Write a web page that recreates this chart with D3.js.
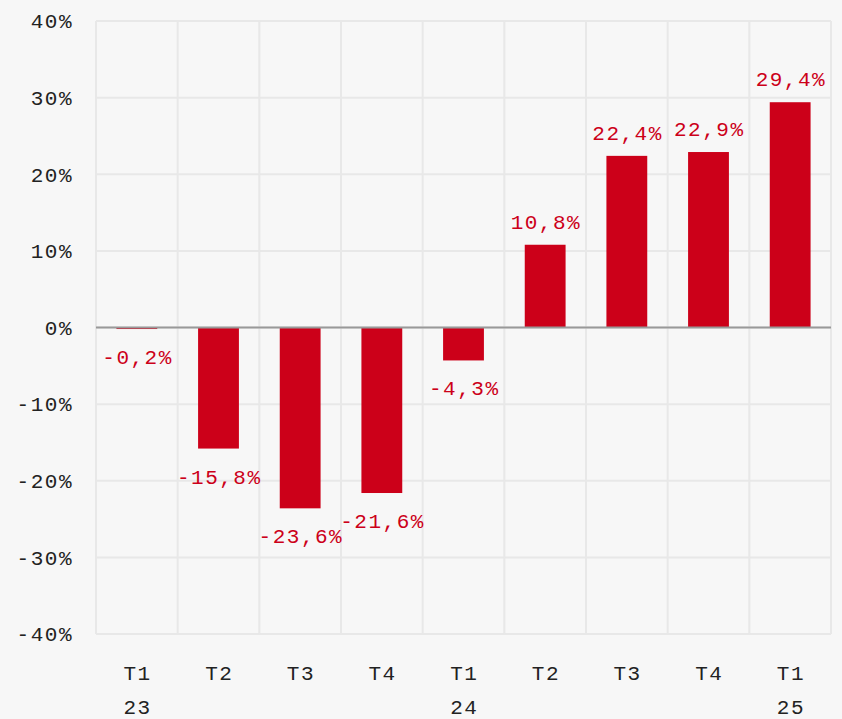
<!DOCTYPE html>
<html>
<head>
<meta charset="utf-8">
<script src="https://cdn.jsdelivr.net/npm/d3@7"></script>
<style>
  html, body { margin: 0; padding: 0; background: #f7f7f7; }
  svg { display: block; }
</style>
</head>
<body>
<svg id="chart"></svg>
<script>
const quarters = ['T1', 'T2', 'T3', 'T4', 'T1', 'T2', 'T3', 'T4', 'T1']
const years = ['23', '', '', '', '24', '', '', '', '25']
const values = [-0.2, -15.8, -23.6, -21.6, -4.3, 10.8, 22.4, 22.9, 29.4]
const yTicks = [-40, -30, -20, -10, 0, 10, 20, 30, 40]

const width = 842, height = 719
const margin = {top: 21, right: 11, bottom: 85, left: 96}
const innerW = width - margin.left - margin.right
const innerH = height - margin.top - margin.bottom
const font = "'Liberation Mono', monospace"
const fsize = 21
const spacing = 1.5
const red = '#cc0019'

const data = values.map((v, i) => ({i: i, q: quarters[i], y: years[i], v: v}))

const svg = d3.select('#chart').attr('width', width).attr('height', height)
svg.append('rect').attr('width', width).attr('height', height).attr('fill', '#f7f7f7')

const chart = svg.append('g').attr('transform', `translate(${margin.left},${margin.top})`)

const x = d3.scaleBand().domain(data.map(d => d.i)).range([0, innerW]).paddingInner(0.5).paddingOuter(0.25)
const y = d3.scaleLinear().domain([-40, 40]).range([innerH, 0])
const step = x.step()

// grid
chart.append('g').selectAll('line').data(yTicks).enter()
  .append('line')
  .attr('x1', 0).attr('x2', innerW)
  .attr('y1', d => y(d)).attr('y2', d => y(d))
  .attr('stroke', '#e8e8e8').attr('stroke-width', 2)

chart.append('g').selectAll('line').data(d3.range(data.length + 1)).enter()
  .append('line')
  .attr('x1', d => d * step).attr('x2', d => d * step)
  .attr('y1', 0).attr('y2', innerH)
  .attr('stroke', '#e8e8e8').attr('stroke-width', 2)

// y axis labels
chart.append('g').selectAll('text').data(yTicks).enter()
  .append('text')
  .attr('x', -23).attr('y', d => y(d))
  .attr('dy', '0.35em')
  .attr('text-anchor', 'end')
  .attr('font-family', font).attr('font-size', fsize)
  .attr('letter-spacing', spacing)
  .attr('fill', '#222')
  .text(d => d + '%')

// bars
chart.append('g').selectAll('rect').data(data).enter()
  .append('rect')
  .attr('x', d => x(d.i))
  .attr('y', d => y(Math.max(0, d.v)))
  .attr('width', x.bandwidth())
  .attr('height', d => Math.abs(y(d.v) - y(0)))
  .attr('fill', red)

// zero line
chart.append('line')
  .attr('x1', 0).attr('x2', innerW)
  .attr('y1', y(0)).attr('y2', y(0))
  .attr('stroke', '#999').attr('stroke-width', 2)

// value labels
chart.append('g').selectAll('text').data(data).enter()
  .append('text')
  .attr('x', d => x(d.i) + x.bandwidth() / 2 + spacing / 2)
  .attr('y', d => d.v >= 0 ? y(d.v) - 16 : y(d.v) + 35)
  .attr('text-anchor', 'middle')
  .attr('font-family', font).attr('font-size', fsize)
  .attr('letter-spacing', spacing)
  .attr('fill', red)
  .text(d => d3.format('.1f')(d.v).replace('.', ',').replace('\u2212', '-') + '%')

// x axis labels
const cx = d => x(d.i) + x.bandwidth() / 2 + spacing / 2
const xl = chart.append('g').selectAll('text').data(data).enter()
  .append('text')
  .attr('text-anchor', 'middle')
  .attr('font-family', font).attr('font-size', fsize)
  .attr('letter-spacing', spacing)
  .attr('fill', '#222')
xl.append('tspan').attr('x', cx).attr('y', innerH + 46).text(d => d.q)
xl.append('tspan').attr('x', cx).attr('y', innerH + 80).text(d => d.y)
</script>
</body>
</html>
